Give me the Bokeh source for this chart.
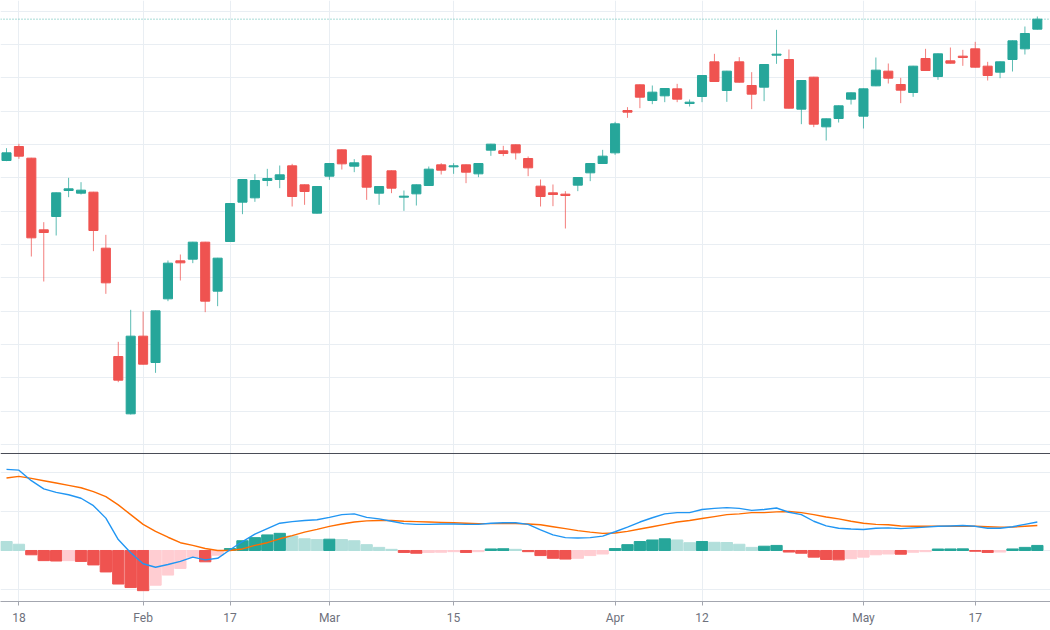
from bokeh.plotting import figure
from bokeh.models import Range1d, FixedTicker, Grid, Span, ColumnDataSource
from bokeh.embed import file_html
from bokeh.resources import INLINE

# ---------------- data ----------------
opens = [185.2, 189.4, 185.9, 164.4, 168.4, 176.2, 175.4, 175.7, 158.9, 126.4,
         109.2, 132.5, 124.6, 143.7, 155.1, 155.6, 160.7, 146.0, 160.9, 172.7,
         174.0, 179.2, 179.5, 183.6, 177.9, 169.4, 180.5, 188.4, 183.5, 186.6,
         175.4, 182.1, 174.2, 175.2, 177.7, 183.9, 183.3, 183.9, 181.2, 188.3,
         188.1, 189.9, 185.8, 177.5, 175.5, 175.1, 177.8, 181.5, 184.3, 187.5,
         200.2, 207.9, 203.2, 204.6, 206.7, 202.3, 204.4, 214.8, 206.2, 214.8,
         207.7, 207.2, 216.8, 215.5, 200.6, 210.2, 195.3, 197.8, 203.6, 198.5,
         207.6, 212.0, 208.0, 205.6, 215.8, 210.4, 215.1, 216.5, 218.7, 213.5,
         211.7, 215.5, 218.7, 224.6]
highs = [188.9, 190.2, 186.0, 166.7, 175.6, 180.0, 178.7, 175.8, 162.9, 130.8,
         140.4, 139.9, 140.2, 155.2, 157.0, 160.8, 160.8, 156.0, 172.4, 179.6,
         181.1, 182.7, 183.7, 184.2, 178.0, 177.5, 184.4, 188.5, 185.6, 186.7,
         177.5, 182.2, 176.2, 178.0, 183.4, 184.4, 184.4, 184.0, 184.4, 190.2,
         189.6, 190.0, 186.4, 179.5, 178.0, 176.0, 180.2, 184.4, 188.4, 196.8,
         201.2, 208.0, 207.7, 206.9, 208.2, 203.5, 210.8, 217.2, 212.1, 216.2,
         211.7, 214.1, 224.4, 218.5, 209.3, 210.3, 197.8, 201.7, 205.6, 206.8,
         216.1, 214.3, 210.0, 213.6, 218.7, 217.3, 219.1, 218.4, 220.8, 214.8,
         214.9, 221.2, 225.4, 228.4]
lows = [185.0, 185.7, 156.4, 148.9, 162.7, 174.2, 175.0, 158.0, 145.2, 118.7,
        109.0, 124.0, 121.5, 143.0, 149.2, 154.4, 139.7, 141.5, 160.8, 169.1,
        172.8, 177.5, 176.9, 171.4, 171.9, 169.3, 179.4, 182.5, 181.7, 173.4,
        171.9, 175.4, 170.1, 171.7, 177.6, 181.0, 181.2, 178.4, 180.2, 186.6,
        186.5, 185.5, 180.5, 171.4, 171.5, 164.8, 176.0, 179.0, 184.2, 186.9,
        198.0, 200.9, 202.1, 202.7, 202.7, 201.4, 202.7, 208.8, 202.8, 208.6,
        200.6, 203.0, 214.2, 200.8, 196.1, 195.2, 191.2, 196.6, 202.0, 194.8,
        207.5, 208.3, 202.4, 204.3, 212.1, 209.4, 214.3, 213.6, 213.1, 209.2,
        209.9, 211.9, 217.0, 224.5]
closes = [187.5, 186.5, 162.0, 163.6, 175.5, 176.7, 176.3, 164.2, 148.5, 119.3,
          132.5, 124.1, 140.1, 154.4, 154.5, 160.7, 143.0, 155.9, 172.3, 179.5,
          179.2, 179.8, 180.9, 174.4, 175.9, 177.4, 184.3, 184.2, 184.5, 177.2,
          177.4, 176.9, 174.5, 177.9, 182.6, 182.3, 183.6, 181.7, 184.3, 190.1,
          187.3, 187.5, 183.0, 174.4, 175.0, 174.7, 180.1, 184.3, 186.5, 196.2,
          199.7, 204.2, 205.7, 206.8, 203.6, 202.7, 210.7, 208.9, 212.0, 208.7,
          205.1, 214.0, 217.1, 200.9, 209.2, 196.1, 197.7, 201.6, 205.5, 206.7,
          212.3, 209.9, 206.3, 213.5, 212.2, 217.2, 214.4, 216.1, 213.2, 210.7,
          214.8, 221.1, 223.3, 227.6]

macd = [2.08, 2.06, 1.79, 1.58, 1.49, 1.43, 1.34, 1.15, 0.83, 0.28,
        -0.06, -0.34, -0.43, -0.36, -0.28, -0.17, -0.24, -0.20, 0.02, 0.23,
        0.42, 0.56, 0.70, 0.74, 0.77, 0.79, 0.85, 0.92, 0.94, 0.85,
        0.81, 0.75, 0.69, 0.67, 0.67, 0.68, 0.68, 0.67, 0.67, 0.70,
        0.71, 0.71, 0.67, 0.53, 0.40, 0.33, 0.32, 0.33, 0.37, 0.48,
        0.60, 0.73, 0.84, 0.94, 0.97, 0.97, 1.05, 1.08, 1.10, 1.08,
        1.03, 1.05, 1.09, 0.98, 0.92, 0.75, 0.63, 0.57, 0.55, 0.54,
        0.57, 0.58, 0.56, 0.58, 0.60, 0.62, 0.63, 0.64, 0.62, 0.57,
        0.57, 0.61, 0.67, 0.73]
signal = [1.86, 1.90, 1.85, 1.79, 1.73, 1.67, 1.61, 1.51, 1.38, 1.17,
          0.92, 0.67, 0.49, 0.34, 0.20, 0.13, 0.05, 0.00, 0.00, 0.04,
          0.13, 0.20, 0.30, 0.38, 0.47, 0.54, 0.62, 0.68, 0.73, 0.76,
          0.77, 0.77, 0.75, 0.74, 0.73, 0.72, 0.71, 0.70, 0.69, 0.69,
          0.69, 0.69, 0.68, 0.66, 0.61, 0.56, 0.51, 0.47, 0.44, 0.45,
          0.49, 0.55, 0.61, 0.67, 0.73, 0.77, 0.82, 0.87, 0.92, 0.94,
          0.97, 0.97, 0.99, 1.00, 0.97, 0.92, 0.86, 0.81, 0.75, 0.70,
          0.67, 0.66, 0.63, 0.62, 0.62, 0.62, 0.62, 0.62, 0.62, 0.61,
          0.60, 0.60, 0.62, 0.64]
hist = [0.23, 0.16, -0.11, -0.26, -0.27, -0.26, -0.28, -0.37, -0.55, -0.86,
        -0.95, -1.03, -0.89, -0.63, -0.46, -0.17, -0.29, -0.12, 0.05, 0.25,
        0.33, 0.40, 0.44, 0.37, 0.30, 0.28, 0.29, 0.28, 0.25, 0.15,
        0.08, 0.03, -0.05, -0.07, -0.05, -0.045, -0.03, -0.05, -0.03, 0.04,
        0.045, 0.03, -0.03, -0.13, -0.20, -0.22, -0.20, -0.13, -0.09, 0.05,
        0.15, 0.23, 0.27, 0.30, 0.27, 0.20, 0.23, 0.21, 0.205, 0.16,
        0.08, 0.11, 0.13, -0.04, -0.07, -0.17, -0.23, -0.24, -0.21, -0.17,
        -0.11, -0.09, -0.095, -0.045, -0.03, 0.038, 0.040, 0.042, -0.02, -0.05,
        -0.04, 0.04, 0.08, 0.13]
hist_before = 0.30  # histogram value of the bar just before the visible window

tick_index = [1, 11, 18, 26, 36, 49, 56, 69, 78]
tick_labels = ["18", "Feb", "17", "Mar", "15", "Apr", "12", "May", "17"]

# ---------------- styling ----------------
UP = "#26a69a"
DOWN = "#ef5350"
UP_LIGHT = "#b2dfdb"
DOWN_LIGHT = "#ffcdd2"
GRID = "#e9eef3"

n = len(opens)
idx = list(range(n))

# histogram colours (TradingView rule: strong when moving away from zero)
hist_colors = []
prev = hist_before
for h in hist:
    if h >= 0:
        hist_colors.append(UP if h > prev else UP_LIGHT)
    else:
        hist_colors.append(DOWN if h < prev else DOWN_LIGHT)
    prev = h

candle_color = [UP if c >= o else DOWN for o, c in zip(opens, closes)]
csrc = ColumnDataSource(dict(
    x=idx, top=[max(o, c) for o, c in zip(opens, closes)],
    bottom=[min(o, c) for o, c in zip(opens, closes)],
    high=highs, low=lows, color=candle_color))
hsrc = ColumnDataSource(dict(x=idx, top=hist, color=hist_colors))

p = figure(width=1050, frame_width=1050, frame_height=601,
           x_range=Range1d(-0.483, 84.06), y_range=Range1d(52.9, 233.2),
           output_backend="svg", toolbar_location=None,
           y_axis_location=None, min_border=0, min_border_bottom=0,
           background_fill_color="white", border_fill_color="white")
p.extra_y_ranges = {"macd": Range1d(-1.3077, 14.1026)}
p.outline_line_color = None
p.ygrid.visible = False

# grids
p.xgrid.ticker = FixedTicker(ticks=tick_index)
p.xgrid.grid_line_color = GRID
p.add_layout(Grid(dimension=1, ticker=FixedTicker(ticks=list(range(100, 231, 10))),
                  grid_line_color=GRID))
p.add_layout(Grid(dimension=1, y_range_name="macd",
                  ticker=FixedTicker(ticks=[-1, 0, 1, 2]), grid_line_color=GRID))

# x axis
ax = p.xaxis[0]
ax.ticker = FixedTicker(ticks=tick_index)
ax.major_label_overrides = {i: t for i, t in zip(tick_index, tick_labels)}
ax.axis_line_color = "#a3a6af"
ax.major_tick_line_color = "#a3a6af"
ax.major_tick_out = 4
ax.major_tick_in = 0
ax.minor_tick_line_color = None
ax.major_label_text_font = "Roboto"
ax.major_label_text_font_size = "12px"
ax.major_label_text_color = "#6e717c"
ax.major_label_standoff = 5

# MACD pane
p.vbar(x="x", top="top", bottom=0, width=0.91, color="color",
       source=hsrc, y_range_name="macd")
p.line(idx, signal, color="#ff6d00", line_width=1.4, y_range_name="macd")
p.line(idx, macd, color="#2196f3", line_width=1.4, y_range_name="macd")

# pane separator
p.add_layout(Span(location=97.3, dimension="width", line_color="#4a4d57", line_width=1))

# last price line
p.add_layout(Span(location=closes[-1], dimension="width", line_color=UP,
                  line_dash="1 2", line_width=1, line_alpha=0.8))

# candles
p.segment(x0="x", y0="low", x1="x", y1="high", color="color", line_width=1,
          line_alpha=0.75, source=csrc)
p.vbar(x="x", top="top", bottom="bottom", width=0.73, fill_color="color",
       line_color="color", line_width=1, source=csrc)

open("out.html", "w").write(file_html(p, INLINE))
